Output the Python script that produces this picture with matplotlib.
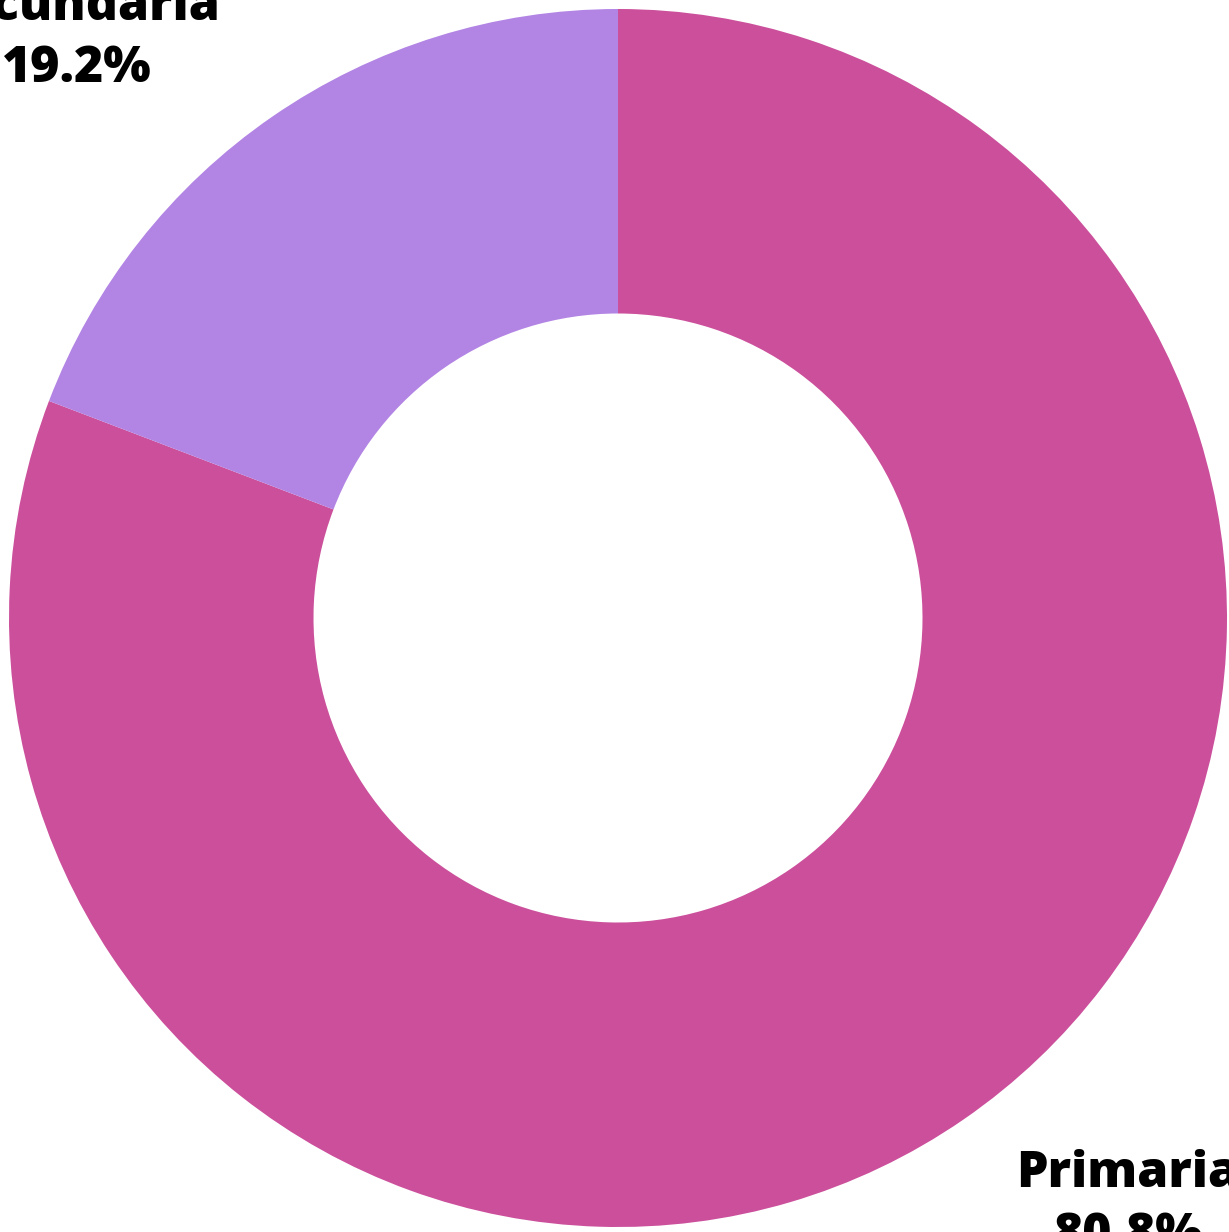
import matplotlib
matplotlib.use('Agg')
import matplotlib.pyplot as plt

categories = ["Primaria", "Secundaria"]
shares = [80.8, 19.2]
colors = ["#CB4F9B", "#B284E4"]

W, H = 1229, 1232
fig = plt.figure(figsize=(W / 100, H / 100), dpi=100)
ax = fig.add_axes([0, 0, 1, 1])

cx, cy, r = 618, H - 618, 609
ax.pie(shares, colors=colors, startangle=90, counterclock=False,
       radius=r, center=(cx, cy), frame=True,
       wedgeprops=dict(width=r * 0.5, linewidth=0))
ax.set_xlim(0, W)
ax.set_ylim(0, H)
ax.set_aspect('equal')
ax.axis('off')

# label spots (pixels from the donut centre)
label_offsets = [(510, -587), (-541, 580)]
for cat, val, (dx, dy) in zip(categories, shares, label_offsets):
    ax.text(cx + dx, cy + dy, f"{cat}\n{val:.1f}%", ha='center', va='center',
            fontsize=36, fontweight=800, family=['Open Sans', 'DejaVu Sans'],
            linespacing=1.33, color='black', clip_on=False)

fig.savefig("out.png", dpi=100)
